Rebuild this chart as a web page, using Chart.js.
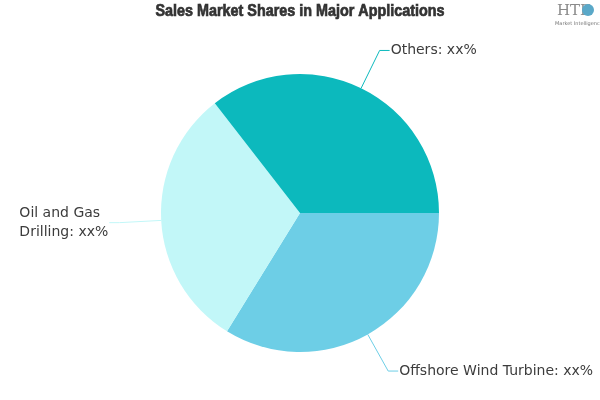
<!DOCTYPE html>
<html>
<head>
<meta charset="utf-8">
<script src="https://cdn.jsdelivr.net/npm/chart.js@4/dist/chart.umd.min.js"></script>
<style>
    html, body { margin: 0; padding: 0; background: #fff; }
    #wrap { width: 600px; height: 400px; position: relative; }
</style>
</head>
<body>
<div id="wrap"><canvas id="myChart" width="600" height="400"></canvas></div>
<script>
const labels = ['Offshore Wind Turbine', 'Oil and Gas Drilling', 'Others'];
const shares = [33.8, 30.7, 35.5];
const shareText = ['xx%', 'xx%', 'xx%'];
const colors = ['#6DCEE6', '#C2F7F8', '#0CB9BD'];
const titleText = 'Sales Market Shares in Major Applications';

// label lines split for the wrapped label
const labelLines = [
    ['Offshore Wind Turbine: ' + shareText[0]],
    ['Oil and Gas', 'Drilling: ' + shareText[1]],
    ['Others: ' + shareText[2]]
];

const leaderPlugin = {
    id: 'leaders',
    afterDraw(chart) {
        const ctx = chart.ctx;
        const meta = chart.getDatasetMeta(0);
        ctx.save();

        // title, squeezed to look like the condensed heavy face
        ctx.font = 'bold 16px "Liberation Sans", sans-serif';
        ctx.fillStyle = '#333';
        ctx.strokeStyle = '#333';
        ctx.lineWidth = 0.7;
        ctx.textAlign = 'center';
        ctx.textBaseline = 'middle';
        const tw = ctx.measureText(titleText).width;
        ctx.save();
        ctx.translate(300, 12);
        ctx.scale(289 / tw, 1);
        ctx.fillText(titleText, 0, 0);
        ctx.strokeText(titleText, 0, 0);
        ctx.restore();

        // logo
        ctx.font = '15px "DejaVu Serif", serif';
        ctx.fillStyle = '#8a8a8a';
        ctx.textAlign = 'left';
        ctx.fillText('HTF', 557, 11);
        ctx.fillStyle = '#5aa8c8';
        ctx.beginPath();
        ctx.arc(588, 10, 6, 0, Math.PI * 2);
        ctx.fill();
        ctx.font = '5px "DejaVu Sans", sans-serif';
        ctx.fillStyle = '#777';
        ctx.fillText('Market Intelligence', 555, 24);

        ctx.font = '14px "DejaVu Sans", sans-serif';
        meta.data.forEach((arc, i) => {
            const p = arc.getProps(['x', 'y', 'startAngle', 'endAngle', 'outerRadius'], true);
            const mid = (p.startAngle + p.endAngle) / 2;
            const cos = Math.cos(mid), sin = Math.sin(mid);
            const x0 = p.x + cos * p.outerRadius;
            const y0 = p.y + sin * p.outerRadius;
            const x1 = p.x + cos * (p.outerRadius + 42);
            const y1 = p.y + sin * (p.outerRadius + 42);
            const right = cos >= 0;
            const x2 = x1 + (right ? 10 : -10);

            ctx.strokeStyle = colors[i];
            ctx.lineWidth = 1;
            ctx.beginPath();
            ctx.moveTo(x0, y0);
            ctx.lineTo(x1, y1);
            ctx.lineTo(x2, y1);
            ctx.stroke();

            const lines = labelLines[i];
            const lh = 19;
            const w = Math.max(...lines.map(l => ctx.measureText(l).width));
            const tx = right ? x2 + 1 : x2 - 1 - w;
            const ty = y1 - (lines.length - 1) * lh / 2;
            ctx.fillStyle = '#3c3c3c';
            ctx.textAlign = 'left';
            ctx.textBaseline = 'middle';
            lines.forEach((l, k) => ctx.fillText(l, tx, ty + k * lh));
        });
        ctx.restore();
    }
};

const config = {
    type: 'pie',
    data: {
        labels: labels,
        datasets: [{
            data: shares,
            backgroundColor: colors,
            borderWidth: 0
        }]
    },
    options: {
        responsive: false,
        animation: false,
        rotation: 90,
        layout: {
            padding: { top: 74, bottom: 48, left: 0, right: 0 }
        },
        plugins: {
            legend: { display: false },
            tooltip: { enabled: false },
            title: { display: false }
        }
    },
    plugins: [leaderPlugin]
};

const myChart = new Chart(
    document.getElementById('myChart'),
    config
);
</script>
</body>
</html>
